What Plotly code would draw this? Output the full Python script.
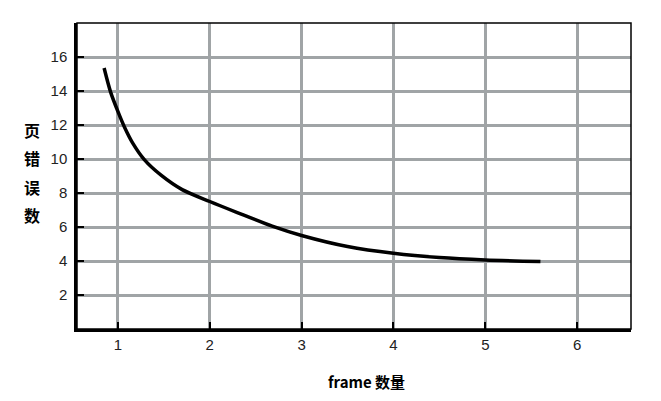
import plotly.graph_objects as go

frames = [0.85, 0.92, 1.0, 1.07, 1.16, 1.29, 1.47, 1.7, 2.0, 2.3, 2.68, 3.0, 3.5, 4.0, 4.5, 5.0, 5.6]
faults = [15.35, 13.95, 12.8, 11.9, 10.95, 9.95, 9.05, 8.2, 7.5, 6.85, 6.05, 5.5, 4.85, 4.45, 4.2, 4.06, 3.97]
x_ticks = [1, 2, 3, 4, 5, 6]
y_ticks = [2, 4, 6, 8, 10, 12, 14, 16]
x_title = "frame 数量"
y_title_chars = ["页", "错", "误", "数"]

fig = go.Figure()
fig.add_trace(go.Scatter(x=frames, y=faults, mode="lines",
                         line=dict(color="black", width=3.5, shape="spline", smoothing=0.8),
                         hoverinfo="skip"))

tickfont = dict(family="Liberation Sans, Arial, sans-serif", size=15, color="#222")
axis_common = dict(showgrid=True, gridcolor="#a0a4a6", gridwidth=3,
                   showline=True, linecolor="black", linewidth=2.5,
                   ticks="inside", ticklen=7, tickwidth=2, tickcolor="black",
                   tickfont=tickfont, zeroline=False, fixedrange=True)

annotations = [
    dict(text=f"<b>{x_title}</b>", xref="paper", yref="paper", x=0.522, y=-0.173,
         xanchor="center", yanchor="middle", showarrow=False,
         font=dict(family="Noto Sans CJK SC, sans-serif", size=15, color="black")),
]
y_positions = [0.650, 0.559, 0.464, 0.373]
for ch, yp in zip(y_title_chars, y_positions):
    annotations.append(dict(text=f"<b>{ch}</b>", xref="paper", yref="paper", x=-0.081, y=yp,
                            xanchor="center", yanchor="middle", showarrow=False,
                            font=dict(family="Noto Sans CJK SC, sans-serif", size=16, color="black")))

fig.update_layout(
    width=645, height=385,
    margin=dict(l=69, r=22, t=15, b=64),
    paper_bgcolor="white", plot_bgcolor="white",
    showlegend=False,
    xaxis=dict(range=[0.555, 6.586], tickvals=x_ticks, ticktext=[str(v) for v in x_ticks], **axis_common),
    yaxis=dict(range=[0, 18], tickvals=y_ticks, ticktext=[str(v) for v in y_ticks],
               ticklabelstandoff=4, **axis_common),
    shapes=[dict(type="rect", xref="paper", yref="paper", x0=0, y0=0, x1=1, y1=1,
                 line=dict(color="black", width=1.5), layer="above")],
    annotations=annotations,
)
fig.write_html("out.html")
